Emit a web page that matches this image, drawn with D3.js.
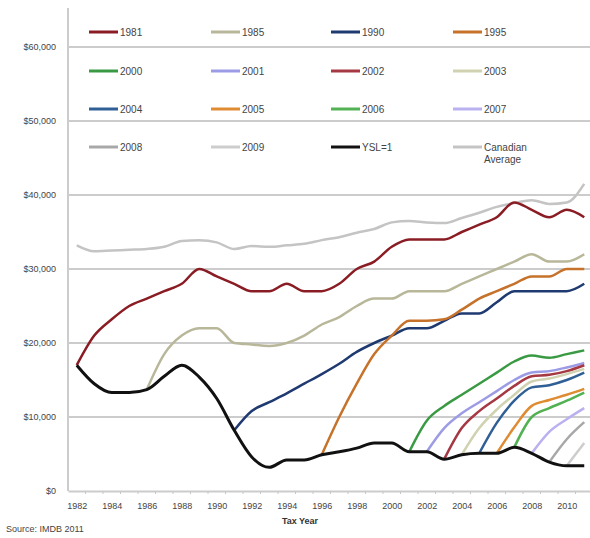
<!DOCTYPE html>
<html>
<head>
<meta charset="utf-8">
<script src="https://cdn.jsdelivr.net/npm/d3@7"></script>
<style>
  body { margin: 0; background: #fff; }
  text { font-family: "Liberation Sans", Arial, sans-serif; }
</style>
</head>
<body>
<div id="chart"></div>
<script>
const years = [1982, 1983, 1984, 1985, 1986, 1987, 1988, 1989, 1990, 1991,
  1992, 1993, 1994, 1995, 1996, 1997, 1998, 1999, 2000, 2001,
  2002, 2003, 2004, 2005, 2006, 2007, 2008, 2009, 2010, 2011];
const yTicks = [0, 10000, 20000, 30000, 40000, 50000, 60000];
const xLabels = [1982, 1984, 1986, 1988, 1990, 1992, 1994, 1996, 1998, 2000, 2002, 2004, 2006, 2008, 2010];

const _ = null;
const avgCanada = [33200, 32400, 32500, 32600, 32700, 33000, 33800, 33900, 33600, 32700,
  33100, 33000, 33200, 33400, 33900, 34300, 34900, 35400, 36300, 36500,
  36300, 36200, 36900, 37600, 38400, 38900, 39300, 38800, 39000, 41500];
const ysl1 = [17000, 14500, 13300, 13300, 13700, 15500, 17000, 15400, 12500, 8200,
  4600, 3200, 4200, 4200, 4900, 5300, 5800, 6500, 6500, 5300,
  5300, 4300, 4900, 5100, 5100, 5900, 5100, 3900, 3400, 3400];
const c1981 = [17000, 21000, 23200, 25000, 26000, 27000, 28000, 30000, 29000, 28000,
  27000, 27000, 28000, 27000, 27000, 28000, 30000, 31000, 33000, 34000,
  34000, 34000, 35000, 36000, 37000, 39000, 38000, 37000, 38000, 37000];
const c1985 = [_, _, _, _, 13700, 18500, 21000, 22000, 22000, 20000,
  19800, 19600, 20000, 21000, 22500, 23500, 25000, 26000, 26000, 27000,
  27000, 27000, 28000, 29000, 30000, 31000, 32000, 31000, 31000, 32000];
const c1990 = [_, _, _, _, _, _, _, _, _, 8200,
  10800, 12000, 13200, 14500, 15800, 17200, 18800, 20000, 21000, 22000,
  22000, 23000, 24000, 24000, 25500, 27000, 27000, 27000, 27000, 28000];
const c1995 = [_, _, _, _, _, _, _, _, _, _,
  _, _, _, _, 4900, 10000, 14500, 18500, 21000, 23000,
  23000, 23200, 24500, 26000, 27000, 28000, 29000, 29000, 30000, 30000];
const c2000 = [_, _, _, _, _, _, _, _, _, _,
  _, _, _, _, _, _, _, _, _, 5300,
  9500, 11500, 13000, 14500, 16000, 17500, 18300, 18000, 18500, 19000];
const c2001 = [_, _, _, _, _, _, _, _, _, _,
  _, _, _, _, _, _, _, _, _, _,
  5300, 8500, 10500, 12000, 13500, 15000, 16000, 16200, 16700, 17300];
const c2002 = [_, _, _, _, _, _, _, _, _, _,
  _, _, _, _, _, _, _, _, _, _,
  _, 4300, 8500, 10800, 12500, 14200, 15500, 15700, 16200, 17000];
const c2003 = [_, _, _, _, _, _, _, _, _, _,
  _, _, _, _, _, _, _, _, _, _,
  _, _, 4900, 8500, 11000, 13000, 14800, 15200, 15800, 16500];
const c2004 = [_, _, _, _, _, _, _, _, _, _,
  _, _, _, _, _, _, _, _, _, _,
  _, _, _, 5100, 9200, 12200, 14000, 14300, 15000, 16000];
const c2005 = [_, _, _, _, _, _, _, _, _, _,
  _, _, _, _, _, _, _, _, _, _,
  _, _, _, _, 5100, 8600, 11500, 12300, 13000, 13800];
const c2006 = [_, _, _, _, _, _, _, _, _, _,
  _, _, _, _, _, _, _, _, _, _,
  _, _, _, _, _, 5900, 10000, 11200, 12200, 13300];
const c2007 = [_, _, _, _, _, _, _, _, _, _,
  _, _, _, _, _, _, _, _, _, _,
  _, _, _, _, _, _, 5100, 8000, 9700, 11200];
const c2008 = [_, _, _, _, _, _, _, _, _, _,
  _, _, _, _, _, _, _, _, _, _,
  _, _, _, _, _, _, _, 3900, 7000, 9300];
const c2009 = [_, _, _, _, _, _, _, _, _, _,
  _, _, _, _, _, _, _, _, _, _,
  _, _, _, _, _, _, _, _, 3400, 6500];

const seriesNames = ["1981", "1985", "1990", "1995", "2000", "2001", "2002", "2003",
  "2004", "2005", "2006", "2007", "2008", "2009", "YSL=1", "Canadian Average"];
const seriesValues = [c1981, c1985, c1990, c1995, c2000, c2001, c2002, c2003,
  c2004, c2005, c2006, c2007, c2008, c2009, ysl1, avgCanada];
const seriesColors = ["#8a1c24", "#b8b79a", "#1f3a70", "#c6722a", "#3a9a44", "#9c9ce6",
  "#a53842", "#d0d2b2", "#2f5f95", "#de8b32", "#52b152", "#b9b1f0", "#a8a8a8", "#cdcdcd",
  "#111111", "#c4c4c4"];

const W = 590, H = 538;
const margin = { top: 8, right: 0, bottom: 47, left: 68 };
const width = 525;
const height = H - margin.top - margin.bottom;

const svg = d3.select("#chart").append("svg")
  .attr("width", W)
  .attr("height", H);

const x = d3.scalePoint().domain(years).range([0, width]).padding(0.5);
const y = d3.scaleLinear().domain([0, 60000]).range([height, height - 444]);

const g = svg.append("g").attr("transform", `translate(${margin.left},${margin.top})`);

// gridlines
g.selectAll(".grid")
  .data(yTicks.filter(d => d > 0))
  .enter().append("line")
  .attr("x1", 0).attr("x2", width)
  .attr("y1", d => y(d)).attr("y2", d => y(d))
  .attr("stroke", "#cccccc")
  .attr("stroke-width", 2);

// y axis
const yAxis = g.append("g")
  .call(d3.axisLeft(y).tickValues(yTicks).tickSize(0).tickPadding(12)
    .tickFormat(d => "$" + d3.format(",")(d)));
yAxis.select(".domain").remove();
yAxis.selectAll("text").style("font-size", "9px").attr("fill", "#444");

g.append("line")
  .attr("x1", 0).attr("x2", 0).attr("y1", 0).attr("y2", height)
  .attr("stroke", "#cccccc").attr("stroke-width", 2);

// x axis
const xAxis = g.append("g")
  .attr("transform", `translate(0,${height})`)
  .call(d3.axisBottom(x).tickValues(xLabels).tickSize(0).tickPadding(12));
xAxis.select(".domain").attr("stroke", "#cccccc").attr("stroke-width", 2);
xAxis.selectAll("text").style("font-size", "9px").attr("fill", "#444");

// small ticks between categories
const step = x.step();
g.append("g").selectAll("line")
  .data(years)
  .enter().append("line")
  .attr("x1", d => x(d) + step / 2).attr("x2", d => x(d) + step / 2)
  .attr("y1", height).attr("y2", height + 3)
  .attr("stroke", "#c8c8c8");

// lines
const line = d3.line()
  .defined(d => d != null)
  .x((d, i) => x(years[i]))
  .y(d => y(d))
  .curve(d3.curveMonotoneX);

const drawOrder = [15, 0, 1, 2, 3, 4, 5, 6, 7, 8, 9, 10, 11, 12, 13, 14];
g.selectAll(".series")
  .data(drawOrder)
  .enter().append("path")
  .attr("class", "series")
  .attr("fill", "none")
  .attr("stroke", i => seriesColors[i])
  .attr("stroke-width", i => i === 14 ? 3 : 2.5)
  .attr("stroke-linejoin", "round")
  .attr("d", i => line(seriesValues[i]));

// legend
const legendCols = [89, 211, 331, 453];
const legendRows = [32, 71, 109, 147];
const legend = svg.append("g");
seriesNames.forEach((name, i) => {
  const lx = legendCols[i % 4];
  const ly = legendRows[Math.floor(i / 4)];
  legend.append("line")
    .attr("x1", lx).attr("x2", lx + 29)
    .attr("y1", ly).attr("y2", ly)
    .attr("stroke", seriesColors[i])
    .attr("stroke-width", 3);
  const t = legend.append("text")
    .attr("x", lx + 31)
    .attr("y", ly + 3.5)
    .style("font-size", "10px")
    .attr("fill", "#444");
  if (name === "Canadian Average") {
    t.append("tspan").text("Canadian");
    t.append("tspan").attr("x", lx + 31).attr("dy", 12).text("Average");
  } else {
    t.text(name);
  }
});

svg.append("text")
  .attr("x", 300)
  .attr("y", 524)
  .attr("text-anchor", "middle")
  .style("font-size", "9px")
  .style("font-weight", "bold")
  .attr("fill", "#333")
  .text("Tax Year");

svg.append("text")
  .attr("x", 6)
  .attr("y", 532)
  .style("font-size", "9px")
  .attr("fill", "#444")
  .text("Source: IMDB 2011");
</script>
</body>
</html>
